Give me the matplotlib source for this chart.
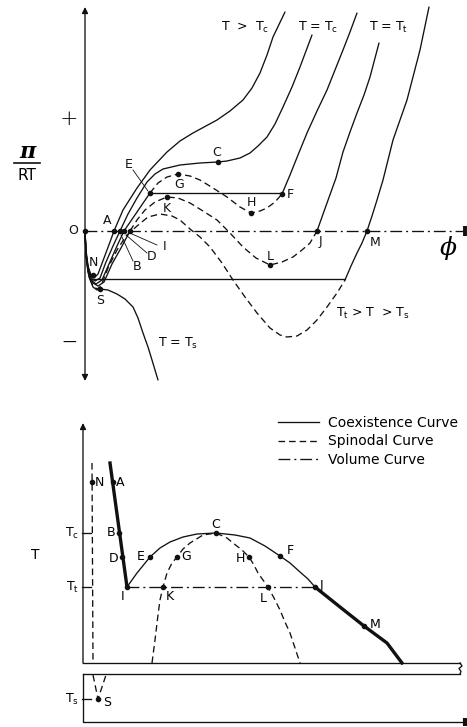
import matplotlib
matplotlib.use("Agg")
import matplotlib.pyplot as plt

plt.rcParams['font.family'] = ['DejaVu Sans']
plt.rcParams['mathtext.default'] = 'regular'

# ---- top panel: pi/RT against phi (arbitrary units, no numeric scale) ----
# T > Tc
c1_phi = [0, 1, 3, 6, 9, 13, 19, 25, 29, 38, 52, 65, 82, 95, 108, 132, 145, 158, 167, 175, 182, 188, 200]
c1_p = [0, -19, -35, -44, -47, -43, -27, -11, 0, 21, 43, 61, 79, 90, 98, 111, 120, 131, 143, 158, 176, 194, 219]
# T = Tc
c2_phi = [0, 1, 3, 6, 10, 15, 21, 28, 35, 43, 52, 62, 70, 78, 95, 115, 133, 142, 155, 165, 173, 182, 190, 198, 207, 215, 227]
c2_p = [0, -21, -37, -47, -50, -47, -31, -15, 0, 17, 33, 49, 57, 62, 66, 68, 69, 70, 73, 78, 85, 94, 107, 124, 144, 164, 196]
# Tc > T > Tt  (through D, E, G, H, F)
c3a_phi = [0, 1, 3, 7, 11, 17, 24, 32, 39, 52, 65]
c3a_p = [0, -22, -39, -50, -53, -49, -33, -15, 0, 19, 38]
c3b_phi = [65, 73, 82, 93, 105, 115, 128, 142, 155, 166, 175, 182, 190, 197]
c3b_p = [38, 48, 54, 57, 55, 51, 43, 34, 24, 18, 20, 23, 29, 37]
c3c_phi = [197, 205, 213, 222, 232, 242, 250, 258, 265, 272]
c3c_p = [37, 56, 76, 98, 120, 141, 161, 181, 199, 218]
# T = Tt  (through I, K, L, J)
c4a_phi = [0, 1, 4, 8, 13, 19, 27, 36, 45]
c4a_p = [0, -23, -41, -52, -55, -51, -33, -17, 0]
c4b_phi = [45, 52, 60, 70, 82, 93, 105, 118, 132, 145, 158, 171, 185, 197, 208, 217, 225, 232]
c4b_p = [0, 11, 21, 29, 34, 33, 28, 20, 11, -2, -16, -27, -34, -31, -26, -19, -12, 0]
c4c_phi = [232, 237, 242, 251, 258, 265, 272, 279, 285, 294]
c4c_p = [0, 14, 28, 53, 79, 99, 118, 136, 154, 188]
# Tt > T > Ts
c5a_phi = [0, 1, 3, 5]
c5a_p = [0, -25, -41, -48]
c5b_phi = [5, 8, 12, 16, 23, 32, 41, 52, 63, 75, 87, 95, 105, 115, 125, 137, 148, 160, 172, 185,
           195, 202, 212, 222, 232, 242, 252, 260]
c5b_p = [-48, -55, -58, -55, -37, -19, -5, 5, 14, 17, 15, 11, 2, -6, -16, -32, -49, -66, -82, -97,
         -104, -106, -105, -99, -89, -76, -62, -49]
c5c_phi = [260, 266, 272, 277, 282, 287, 292, 298, 308, 322, 335, 344]
c5c_p = [-49, -35, -22, -12, 0, 15, 31, 51, 91, 131, 181, 224]
# T = Ts
c6_phi = [0, 1, 4, 8, 12, 15, 23, 32, 40, 48, 53, 58, 63, 67, 73]
c6_p = [0, -26, -46, -56, -59, -58, -59, -63, -68, -76, -87, -102, -116, -129, -149]

tie_ef = ([65, 197], [38, 38])
tie_5 = ([5, 260], [-48, -48])

top_pts = {'O': (0, 0), 'A': (29, 0), 'B': (35, 0), 'D': (39, 0), 'I': (45, 0), 'J': (232, 0),
           'M': (282, 0), 'C': (133, 69), 'E': (65, 38), 'F': (197, 37), 'G': (93, 57),
           'H': (166, 18), 'K': (82, 34), 'L': (185, -34), 'N': (8, -44), 'S': (15, -58)}
top_lbl = {'O': (-12, 0), 'A': (22, 10), 'E': (44, 67), 'C': (132, 79), 'G': (94, 47),
           'K': (82, 23), 'H': (166, 28), 'F': (205, 36), 'I': (80, -15), 'D': (67, -26),
           'B': (52, -35), 'N': (8, -32), 'S': (15, -69), 'J': (235, -11), 'L': (185, -25),
           'M': (290, -11)}
leaders = {'E': [(48, 61), (63, 40)], 'I': [(47, -3), (72, -14)],
           'D': [(41, -4), (62, -22)], 'B': [(36, -4), (48, -30)]}

# ---- bottom panel: T against phi ----
sp_left_phi, sp_left_T = [9, 10], [200, 0]
sp_low_phi, sp_low_T = [10, 15, 23], [-12, -36, -12]
vol_left_phi, vol_left_T = [27, 44], [200, 76]
coex_phi = [44, 54, 67, 77, 87, 100, 114, 133, 152, 167, 182, 197, 207, 217, 225, 232]
coex_T = [76, 90, 106, 115, 121, 126, 129, 130, 128, 125, 117, 107, 100, 91, 84, 76]
coex_r_phi = [232, 257, 281, 304, 319]
coex_r_T = [76, 56, 37, 20, 0]
spin_phi = [69, 72, 75, 77, 80, 84, 89, 94, 100, 107, 120, 133, 144, 150, 159, 166, 171, 175,
            180, 185, 191, 197, 202, 207, 212, 217]
spin_T = [0, 23, 48, 63, 76, 90, 100, 106, 114, 120, 128, 130, 125, 120, 113, 106, 98, 90,
          83, 76, 65, 53, 41, 30, 15, 0]
vol_tie = ([44, 232], [76, 76])
T_ticks = [130, 76, -36]
T_tick_lbl = ['T$_c$', 'T$_t$', 'T$_s$']

bot_pts = {'N': (9, 181), 'A': (30, 181), 'B': (36, 130), 'D': (39, 106), 'I': (44, 76),
           'E': (67, 106), 'G': (94, 106), 'C': (133, 130), 'H': (166, 106), 'F': (197, 107),
           'K': (80, 76), 'L': (185, 76), 'J': (232, 76), 'M': (281, 37), 'S': (15, -36)}
bot_lbl = {'N': (12, 181, 'left'), 'A': (33, 180, 'left'), 'B': (32, 130, 'right'),
           'D': (35, 105, 'right'), 'E': (62, 107, 'right'), 'G': (98, 107, 'left'),
           'C': (133, 139, 'center'), 'H': (162, 105, 'right'), 'F': (204, 113, 'left'),
           'I': (40, 66, 'center'), 'K': (83, 66, 'left'), 'L': (180, 65, 'center'),
           'J': (237, 77, 'left'), 'M': (287, 39, 'left'), 'S': (20, -40, 'left')}

k = '#111111'
lw = 0.95
dash = (5, 3)
dashdot = (9, 3, 1.5, 3)
fs = 9

fig = plt.figure(figsize=(4.67, 7.27), dpi=100)

# top panel occupies pixel rows 0..392
ax = fig.add_axes([0, 1 - 392 / 727, 1, 392 / 727])
ax.set_xlim(-85, 382)
ax.set_ylim(-161, 231)
ax.axis('off')

for xs, ys in [(c1_phi, c1_p), (c2_phi, c2_p), (c3a_phi, c3a_p), (c3c_phi, c3c_p),
               (c4a_phi, c4a_p), (c4c_phi, c4c_p), (c5a_phi, c5a_p), (c5c_phi, c5c_p),
               (c6_phi, c6_p), tie_ef, tie_5]:
    ax.plot(xs, ys, color=k, lw=lw, solid_capstyle='round', solid_joinstyle='round')
for xs, ys in [(c3b_phi, c3b_p), (c4b_phi, c4b_p), (c5b_phi, c5b_p)]:
    ax.plot(xs, ys, color=k, lw=lw, dashes=dash)

# axes
ax.annotate('', xy=(0, 224), xytext=(0, -150),
            arrowprops=dict(arrowstyle='<|-|>', color=k, lw=lw, mutation_scale=9,
                            shrinkA=0, shrinkB=0))
ax.plot([0, 379], [0, 0], color=k, lw=lw, dashes=dashdot)
ax.plot([380, 380], [-5, 5], color=k, lw=2.8, solid_capstyle='butt')

for name, (x, y) in top_pts.items():
    ax.plot(x, y, 'o', color=k, ms=3)
for name, (x, y) in top_lbl.items():
    ax.text(x, y, name, fontsize=fs, ha='center', va='center', color=k)
for name, seg in leaders.items():
    ax.plot([seg[0][0], seg[1][0]], [seg[0][1], seg[1][1]], color=k, lw=0.6)

ax.text(160, 204, 'T  >  T$_c$', fontsize=fs, ha='center', va='center')
ax.text(233, 204, 'T = T$_c$', fontsize=fs, ha='center', va='center')
ax.text(304, 204, 'T = T$_t$', fontsize=fs, ha='center', va='center')
ax.text(288, -82, 'T$_t$ > T  > T$_s$', fontsize=fs, ha='center', va='center')
ax.text(93, -112, 'T = T$_s$', fontsize=fs, ha='center', va='center')
ax.text(-16, 112, '+', fontsize=16, ha='center', va='center', fontweight='light')
ax.text(-16, -112, '\u2014', fontsize=10, ha='center', va='center')
ax.text(-58, 79, '\u03c0', fontsize=16, ha='center', va='center',
        family='DejaVu Serif', style='italic', fontweight='bold')
ax.plot([-71, -45], [68, 68], color=k, lw=1.2)
ax.text(-58, 55, 'RT', fontsize=11, ha='center', va='center')
ax.text(363, -17, '\u03d5', fontsize=18, ha='center', va='center',
        family='DejaVu Serif', style='italic')

# bottom panel occupies pixel rows 392..727
bx = fig.add_axes([0, 0, 1, 335 / 727])
bx.set_xlim(-83, 384)
bx.set_ylim(-64, 271)
bx.axis('off')

h_coex, = bx.plot(coex_phi, coex_T, color=k, lw=lw, label='Coexistence Curve')
bx.plot(coex_r_phi, coex_r_T, color=k, lw=2.4)
bx.plot(vol_left_phi, vol_left_T, color=k, lw=2.4)
h_spin, = bx.plot(spin_phi, spin_T, color=k, lw=lw, dashes=dash, label='Spinodal Curve')
bx.plot(sp_left_phi, sp_left_T, color=k, lw=lw, dashes=dash)
bx.plot(sp_low_phi, sp_low_T, color=k, lw=lw, dashes=dash)
h_vol, = bx.plot(*vol_tie, color=k, lw=lw, dashes=dashdot, label='Volume Curve')

# axis frame with a break
bx.annotate('', xy=(0, 240), xytext=(0, 0),
            arrowprops=dict(arrowstyle='-|>', color=k, lw=lw, mutation_scale=9,
                            shrinkA=0, shrinkB=0))
bx.plot([0, 377], [0, 0], color=k, lw=lw)
bx.plot([0, 377], [-11, -11], color=k, lw=lw)
bx.plot([377, 379, 376, 378, 377], [0, -3, -5.5, -8.5, -11], color=k, lw=lw)
bx.plot([0, 0, 381], [-11, -59, -59], color=k, lw=lw)
bx.plot([382, 382], [-63, -55], color=k, lw=3, solid_capstyle='butt')
for t, lab in zip(T_ticks, T_tick_lbl):
    bx.plot([-1, 8], [t, t], color=k, lw=lw)
    bx.text(-4, t, lab, fontsize=fs, ha='right', va='center')
bx.text(-48, 108, 'T', fontsize=10, ha='center', va='center')

for name, (x, y) in bot_pts.items():
    bx.plot(x, y, 'o', color=k, ms=3)
for name, (x, y, ha) in bot_lbl.items():
    bx.text(x, y, name, fontsize=fs, ha=ha, va='center')

fig.legend(handles=[h_coex, h_spin, h_vol], loc='upper left',
           bbox_to_anchor=(272 / 467, 1 - 410 / 727), frameon=False, fontsize=10,
           handlelength=3.0, handletextpad=0.6, labelspacing=0.35, borderaxespad=0)

fig.savefig('out.png', dpi=100, facecolor='white')
